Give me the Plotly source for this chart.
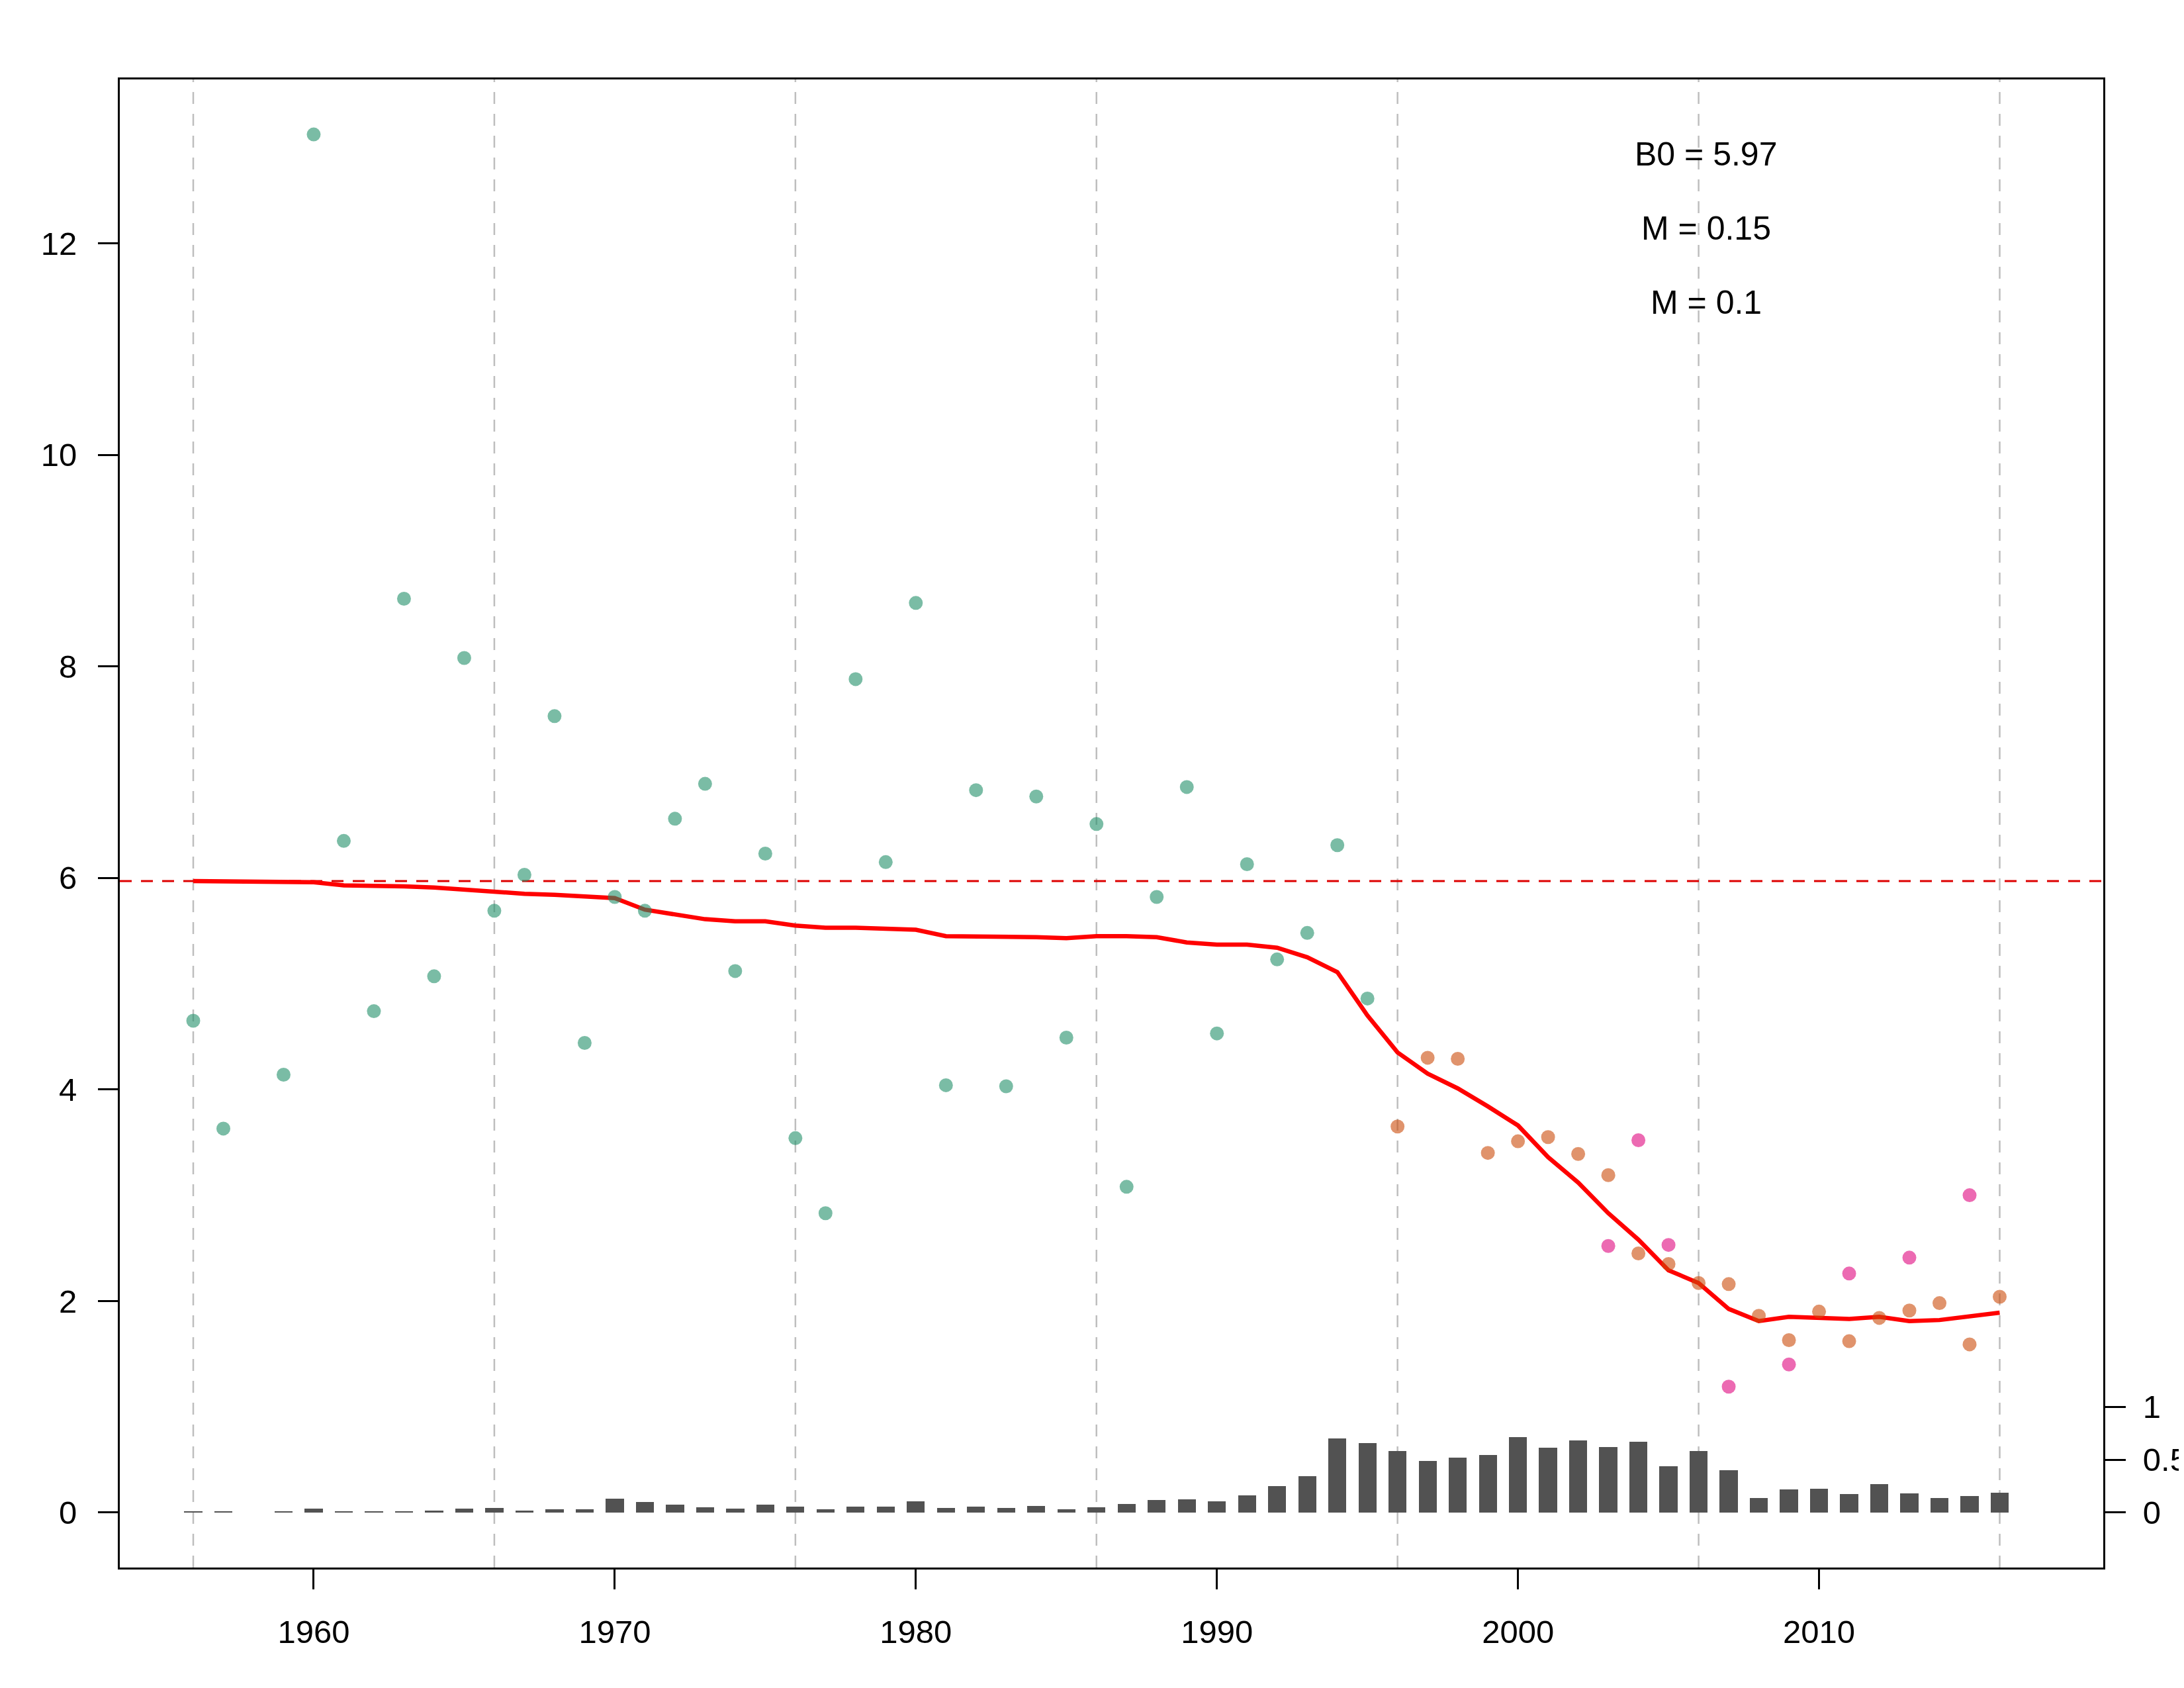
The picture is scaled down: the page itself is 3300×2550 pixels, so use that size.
import plotly.graph_objects as go

# ---------------- data ----------------
years_line = list(range(1956, 2017))
biomass_line = [5.97, 5.965, 5.96, 5.96, 5.96, 5.93, 5.93, 5.92, 5.91, 5.89,
                5.86, 5.85, 5.84, 5.83, 5.81, 5.70, 5.65, 5.61, 5.59, 5.59,
                5.55, 5.53, 5.53, 5.52, 5.51, 5.45, 5.45, 5.44, 5.44, 5.43,
                5.45, 5.45, 5.44, 5.39, 5.37, 5.37, 5.34, 5.25, 5.11, 4.70,
                4.35, 4.15, 4.01, 3.84, 3.66, 3.36, 3.12, 2.83, 2.58, 2.29,
                2.17, 1.925, 1.81, 1.85, 1.84, 1.83, 1.85, 1.81, 1.82, 1.86,
                1.89]

years_s1 = [1956, 1957, 1959, 1960, 1961, 1962, 1963, 1964, 1965, 1966,
            1967, 1968, 1969, 1970, 1971, 1972, 1973, 1974, 1975, 1976,
            1977, 1978, 1979, 1980, 1981, 1982, 1983, 1984, 1985, 1986,
            1987, 1988, 1989, 1990, 1991, 1992, 1993, 1994, 1995]
index_s1 = [4.65, 3.63, 4.14, 13.03, 6.35, 4.74, 8.64, 5.07, 8.08, 5.69,
            6.03, 7.53, 4.44, 5.82, 5.69, 6.56, 6.89, 5.12, 6.23, 3.54,
            2.83, 7.88, 6.15, 8.60, 4.04, 6.83, 4.03, 6.77, 4.49, 6.51,
            3.08, 5.82, 6.86, 4.53, 6.13, 5.23, 5.48, 6.31, 4.86]

years_s2 = list(range(1996, 2017))
index_s2 = [3.65, 4.30, 4.29, 3.40, 3.51, 3.55, 3.39, 3.19, 2.45, 2.35,
            2.17, 2.16, 1.86, 1.63, 1.90, 1.62, 1.84, 1.91, 1.98, 1.59,
            2.04]

years_s3 = [2003, 2004, 2005, 2007, 2009, 2011, 2013, 2015]
index_s3 = [2.52, 3.52, 2.53, 1.19, 1.40, 2.26, 2.41, 3.00]

years_catch = list(range(1956, 2017))
catch = [0.008, 0.008, 0.0, 0.008, 0.035, 0.006, 0.01, 0.01, 0.017, 0.035,
         0.042, 0.017, 0.029, 0.029, 0.129, 0.098, 0.073, 0.048, 0.035, 0.073,
         0.054, 0.029, 0.054, 0.054, 0.104, 0.042, 0.054, 0.042, 0.06, 0.029,
         0.048, 0.079, 0.117, 0.123, 0.104, 0.16, 0.248, 0.342, 0.698, 0.654,
         0.579, 0.485, 0.517, 0.542, 0.71, 0.61, 0.68, 0.62, 0.67, 0.435,
         0.58, 0.40, 0.135, 0.217, 0.223, 0.173, 0.267, 0.179, 0.135, 0.154,
         0.19]

B0 = 5.97
grid_years = [1956, 1966, 1976, 1986, 1996, 2006, 2016]
x_ticks = [1960, 1970, 1980, 1990, 2000, 2010]
y_ticks = [0, 2, 4, 6, 8, 10, 12]
y2_ticks = [0, 0.5, 1]
y2_labels = ["0", "0.5", "1"]
ann_texts = ["B0 = 5.97", "M = 0.15", "M = 0.1"]
ann_x = 2006.25
ann_y = [12.84, 12.14, 11.44]

x_range = [1953.56, 2019.44]
y_range = [-0.52, 13.55]

FONT = "Liberation Sans, Arial, Helvetica, sans-serif"

# ---------------- figure ----------------
fig = go.Figure()

fig.add_trace(go.Bar(x=years_catch, y=catch, width=0.6,
                     marker=dict(color="#525252", line=dict(width=0)),
                     yaxis="y2", showlegend=False, hoverinfo="skip"))

fig.add_trace(go.Scatter(x=years_line, y=biomass_line, mode="lines",
                         line=dict(color="#FF0000", width=6.5),
                         showlegend=False))

fig.add_trace(go.Scatter(x=years_s1, y=index_s1, mode="markers",
                         marker=dict(color="rgba(33,143,105,0.6)", size=21,
                                     line=dict(width=0)),
                         showlegend=False))
fig.add_trace(go.Scatter(x=years_s2, y=index_s2, mode="markers",
                         marker=dict(color="rgba(203,75,10,0.6)", size=21,
                                     line=dict(width=0)),
                         showlegend=False))
fig.add_trace(go.Scatter(x=years_s3, y=index_s3, mode="markers",
                         marker=dict(color="rgba(223,7,127,0.6)", size=21,
                                     line=dict(width=0)),
                         showlegend=False))

shapes = []
for gy in grid_years:
    shapes.append(dict(type="line", xref="x", yref="paper", x0=gy, x1=gy,
                       y0=0, y1=1, layer="below",
                       line=dict(color="#BEBEBE", width=2.5, dash="18px,15px")))
shapes.append(dict(type="line", xref="paper", yref="y", x0=0, x1=1,
                   y0=B0, y1=B0, layer="below",
                   line=dict(color="#DD0000", width=3, dash="18px,14px")))

annotations = [dict(x=ann_x, y=yy, xref="x", yref="y", text=t, showarrow=False,
                    xanchor="center", yanchor="middle",
                    font=dict(family=FONT, size=50, color="black"))
               for t, yy in zip(ann_texts, ann_y)]

fig.update_layout(
    template="none",
    width=3300, height=2550,
    margin=dict(l=173, r=130, t=112, b=190, autoexpand=False),
    paper_bgcolor="white", plot_bgcolor="white",
    font=dict(family=FONT, size=49, color="black"),
    bargap=0,
    shapes=shapes,
    annotations=annotations,
    xaxis=dict(range=x_range, tickvals=x_ticks, ticks="outside", ticklen=30,
               tickwidth=3, tickcolor="black", showgrid=False, zeroline=False,
               showline=True, linecolor="black", linewidth=3, mirror=True,
               automargin=False,
               ticklabelstandoff=22, tickfont=dict(size=49)),
    yaxis=dict(range=y_range, tickvals=y_ticks, ticks="outside", ticklen=30,
               tickwidth=3, tickcolor="black", showgrid=False, zeroline=False,
               showline=True, linecolor="black", linewidth=3, mirror=True,
               automargin=False,
               ticklabelstandoff=22, tickfont=dict(size=49)),
    yaxis2=dict(range=y_range, overlaying="y", side="right", tickvals=y2_ticks,
                ticktext=y2_labels, ticks="outside", ticklen=33, tickwidth=3,
                tickcolor="black", showgrid=False, zeroline=False,
                showline=False, automargin=False,
                ticklabelstandoff=16, tickfont=dict(size=49)),
)

fig.write_html("out.html")
